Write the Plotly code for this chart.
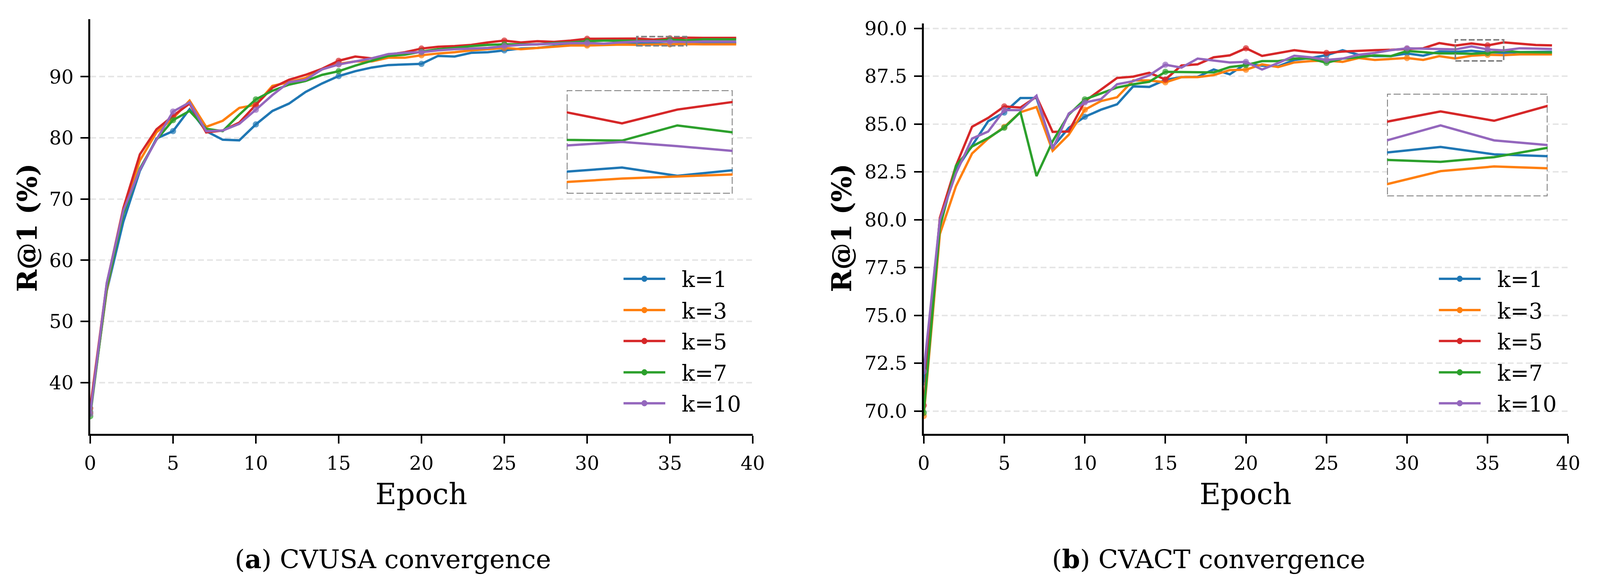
import plotly.graph_objects as go

# epochs 0..39
epochs = list(range(40))
labels = ["k=1", "k=3", "k=5", "k=7", "k=10"]
colors = ["#1f77b4", "#ff7f0e", "#d62728", "#2ca02c", "#9467bd"]

# CVUSA R@1 (%) per epoch
cvusa_k1 = [35.2, 55.0, 66.3, 74.6, 79.9, 81.1, 84.7, 81.1, 79.7, 79.6,
            82.2, 84.4, 85.6, 87.5, 88.9, 90.1, 90.9, 91.5, 91.9, 92.0,
            92.1, 93.4, 93.3, 93.9, 94.0, 94.3, 94.6, 94.7, 95.0, 95.2,
            95.3, 95.3, 95.4, 95.37, 95.43, 95.31, 95.39, 95.45, 95.48, 95.5]
cvusa_k3 = [35.0, 55.2, 68.3, 76.3, 80.9, 83.2, 86.1, 81.8, 82.8, 84.9,
            85.4, 88.5, 89.1, 89.8, 91.2, 92.1, 92.5, 92.5, 93.1, 93.1,
            93.5, 93.8, 94.0, 94.3, 94.5, 94.7, 94.5, 94.7, 94.9, 95.1,
            95.1, 95.2, 95.25, 95.22, 95.27, 95.30, 95.33, 95.3, 95.3, 95.3]
cvusa_k5 = [35.8, 56.2, 68.5, 77.3, 81.4, 83.6, 85.6, 80.9, 81.2, 82.5,
            85.4, 88.2, 89.5, 90.3, 91.3, 92.6, 93.3, 93.0, 93.6, 94.0,
            94.6, 94.9, 95.0, 95.2, 95.6, 95.9, 95.6, 95.8, 95.7, 95.9,
            96.2, 96.2, 96.2, 96.23, 96.07, 96.27, 96.38, 96.35, 96.35, 96.35]
cvusa_k7 = [34.5, 55.6, 67.6, 75.0, 79.7, 82.9, 84.4, 81.5, 81.1, 83.8,
            86.3, 87.7, 88.7, 89.3, 90.3, 90.9, 91.8, 92.6, 93.4, 93.6,
            94.1, 94.5, 94.7, 95.0, 95.2, 95.3, 95.3, 95.3, 95.5, 95.6,
            95.8, 95.9, 95.9, 95.83, 95.82, 96.04, 95.94, 96.1, 96.1, 96.1]
cvusa_k10 = [34.9, 56.3, 68.1, 74.8, 79.7, 84.3, 85.8, 81.1, 81.2, 82.3,
             84.6, 87.0, 89.1, 89.5, 91.2, 92.0, 92.5, 93.0, 93.7, 93.9,
             94.0, 94.3, 94.5, 94.6, 94.7, 95.0, 95.2, 95.3, 95.4, 95.5,
             95.5, 95.4, 95.6, 95.75, 95.80, 95.74, 95.67, 95.75, 95.72, 95.72]

# CVACT R@1 (%) per epoch
cvact_k1 = [71.5, 80.0, 82.6, 83.9, 85.15, 85.6, 86.36, 86.36, 83.8, 84.8,
            85.38, 85.75, 86.03, 86.97, 86.94, 87.31, 87.45, 87.47, 87.85, 87.6,
            88.15, 88.05, 88.02, 88.35, 88.45, 88.6, 88.86, 88.62, 88.55, 88.55,
            88.69, 88.57, 88.79, 88.77, 88.83, 88.75, 88.73, 88.76, 88.78, 88.78]
cvact_k3 = [69.74, 79.25, 81.75, 83.46, 84.24, 84.85, 85.62, 85.89, 83.6, 84.44,
            85.75, 86.2, 86.4, 87.28, 87.28, 87.18, 87.45, 87.45, 87.56, 87.82,
            87.84, 88.12, 87.98, 88.22, 88.29, 88.32, 88.25, 88.45, 88.35, 88.39,
            88.45, 88.35, 88.55, 88.43, 88.57, 88.62, 88.60, 88.64, 88.64, 88.64]
cvact_k5 = [70.29, 80.1, 82.82, 84.86, 85.32, 85.92, 85.86, 86.43, 84.59, 84.61,
            86.19, 86.8, 87.41, 87.48, 87.68, 87.33, 88.06, 88.12, 88.49, 88.59,
            88.96, 88.56, 88.72, 88.86, 88.76, 88.72, 88.79, 88.84, 88.86, 88.88,
            88.92, 88.96, 89.23, 89.10, 89.21, 89.11, 89.27, 89.19, 89.13, 89.11]
cvact_k7 = [69.91, 79.6, 82.82, 83.83, 84.27, 84.81, 85.62, 82.28, 84.10, 85.49,
            86.29, 86.6, 86.91, 87.08, 87.21, 87.73, 87.72, 87.71, 87.7, 87.98,
            88.08, 88.29, 88.29, 88.42, 88.42, 88.2, 88.42, 88.49, 88.59, 88.55,
            88.82, 88.76, 88.69, 88.69, 88.67, 88.72, 88.82, 88.76, 88.75, 88.74]
cvact_k10 = [72.07, 80.0, 82.42, 84.24, 84.61, 85.73, 85.73, 86.48, 83.70, 85.55,
             86.13, 86.3, 87.08, 87.24, 87.55, 88.1, 87.95, 88.42, 88.32, 88.22,
             88.25, 87.85, 88.19, 88.57, 88.49, 88.35, 88.42, 88.62, 88.72, 88.86,
             88.96, 88.94, 88.92, 88.90, 89.06, 88.90, 88.85, 88.96, 88.94, 88.92]

cvusa = [cvusa_k1, cvusa_k3, cvusa_k5, cvusa_k7, cvusa_k10]
cvact = [cvact_k1, cvact_k3, cvact_k5, cvact_k7, cvact_k10]

# zoom windows (epoch range, R@1 range) shown in the insets
zoom_x = [33, 36]
cvusa_zoom_y = [95.05, 96.55]
cvact_zoom_y = [88.3, 89.4]

# layout is designed on a 4320x1493 canvas, but the figure fills the window
W, H = 4320, 1493
FONT = "DejaVu Serif"
GRID = "#e6e6e6"
BOX = "#808080"


def px(x):
    return x / W


def py(y):
    return 1 - y / H


fig = go.Figure()

marker_sizes = [16 if e % 5 == 0 else 0 for e in epochs]

for series, xa, ya in [(cvusa, "x", "y"), (cvact, "x2", "y2")]:
    for vals, lab, col in zip(series, labels, colors):
        fig.add_trace(go.Scatter(
            x=epochs, y=vals, mode="lines+markers", name=lab,
            line=dict(color=col, width=6),
            marker=dict(size=marker_sizes, color=col, line=dict(width=0)),
            xaxis=xa, yaxis=ya, showlegend=False))

# inset traces
for series, xa, ya in [(cvusa, "x3", "y3"), (cvact, "x4", "y4")]:
    for vals, lab, col in zip(series, labels, colors):
        fig.add_trace(go.Scatter(
            x=epochs, y=vals, mode="lines", name=lab,
            line=dict(color=col, width=6),
            xaxis=xa, yaxis=ya, showlegend=False))

axis_common = dict(
    showline=True, linecolor="black", linewidth=4.5,
    ticks="outside", ticklen=20, tickwidth=4, tickcolor="black",
    tickfont=dict(family=FONT, size=49, color="black"),
    ticklabelstandoff=8, zeroline=False,
)

fig.update_layout(
    autosize=True,
    margin=dict(l=0, r=0, t=0, b=0),
    paper_bgcolor="white", plot_bgcolor="white",
    xaxis=dict(domain=[px(229.3), px(2039)], range=[0, 40], tickvals=list(range(0, 41, 5)),
               showgrid=False, anchor="y", **axis_common),
    yaxis=dict(domain=[py(1107.5), py(34.5)], range=[31.6, 99.4], tickvals=list(range(40, 91, 10)),
               showgrid=True, gridcolor=GRID, gridwidth=3.5, griddash="15px,8px",
               anchor="x", **axis_common),
    xaxis2=dict(domain=[px(2506), px(4266)], range=[0, 40], tickvals=list(range(0, 41, 5)),
                showgrid=False, anchor="y2", **axis_common),
    yaxis2=dict(domain=[py(1107.5), py(45.9)], range=[68.8, 90.25],
                tickvals=[70, 72.5, 75, 77.5, 80, 82.5, 85, 87.5, 90], tickformat=".1f",
                showgrid=True, gridcolor=GRID, gridwidth=3.5, griddash="15px,8px",
                anchor="x2", **axis_common),
    xaxis3=dict(domain=[px(1530.8), px(1984)], range=zoom_x, visible=False, anchor="y3"),
    yaxis3=dict(domain=[py(486), py(218.3)], range=cvusa_zoom_y, visible=False, anchor="x3"),
    xaxis4=dict(domain=[px(3771.4), px(4210)], range=zoom_x, visible=False, anchor="y4"),
    yaxis4=dict(domain=[py(492.7), py(227.3)], range=cvact_zoom_y, visible=False, anchor="x4"),
)

shapes = []
# inset backgrounds + dashed frames
for xr, yr, zy in [("x3", "y3", cvusa_zoom_y), ("x4", "y4", cvact_zoom_y)]:
    shapes.append(dict(type="rect", xref=xr, yref=yr, x0=zoom_x[0], x1=zoom_x[1],
                       y0=zy[0], y1=zy[1], fillcolor="white", layer="below",
                       line=dict(color=BOX, width=4.5, dash="18px,7px")))
# small dashed boxes marking the zoomed region on the main axes
for xr, yr, zy in [("x", "y", cvusa_zoom_y), ("x2", "y2", cvact_zoom_y)]:
    shapes.append(dict(type="rect", xref=xr, yref=yr, x0=zoom_x[0], x1=zoom_x[1],
                       y0=zy[0], y1=zy[1], layer="above",
                       line=dict(color=BOX, width=4, dash="15px,6px")))

annotations = []
# hand-drawn legends (long sample lines like matplotlib)
row_y = [706, 787, 867, 948, 1028]
for right_edge in [2039, 4266]:
    for lab, col, ry in zip(labels, colors, row_y):
        shapes.append(dict(type="line", xref="paper", yref="paper",
                           x0=px(right_edge - 353), x1=px(right_edge - 239),
                           y0=py(ry), y1=py(ry), line=dict(color=col, width=6)))
        cx = right_edge - 296
        shapes.append(dict(type="circle", xref="paper", yref="paper",
                           x0=px(cx - 8), x1=px(cx + 8), y0=py(ry + 8), y1=py(ry - 8),
                           fillcolor=col, line=dict(width=0)))
        annotations.append(dict(text=lab, xref="paper", yref="paper",
                                x=px(right_edge - 196), y=py(ry + 2), xanchor="left", yanchor="middle",
                                showarrow=False, font=dict(family=FONT, size=56, color="black")))

# axis titles and captions
for cx in [1134, 3385]:
    annotations.append(dict(text="Epoch", xref="paper", yref="paper", x=px(cx), y=py(1263),
                            xanchor="center", yanchor="middle", showarrow=False,
                            font=dict(family=FONT, size=74, color="black")))
for cx, cap in [(1056, "(<b>a</b>) CVUSA convergence"), (3284, "(<b>b</b>) CVACT convergence")]:
    annotations.append(dict(text=cap, xref="paper", yref="paper", x=px(cx), y=py(1431),
                            xanchor="center", yanchor="middle", showarrow=False,
                            font=dict(family=FONT, size=66, color="black")))
for cx in [57, 2281]:
    annotations.append(dict(text="<b>R@1 (%)</b>", xref="paper", yref="paper", x=px(cx), y=py(574),
                            xanchor="center", yanchor="middle", textangle=-90, showarrow=False,
                            font=dict(family=FONT, size=69, color="black")))

fig.update_layout(shapes=shapes, annotations=annotations)

fig.write_html(
    "out.html",
    default_width="100vw", default_height="100vh",
    config={"displayModeBar": False, "responsive": True},
    post_script=("document.body.style.margin='0';document.body.style.overflow='hidden';"
                 "Plotly.Plots.resize(document.getElementById('{plot_id}'));"),
)
